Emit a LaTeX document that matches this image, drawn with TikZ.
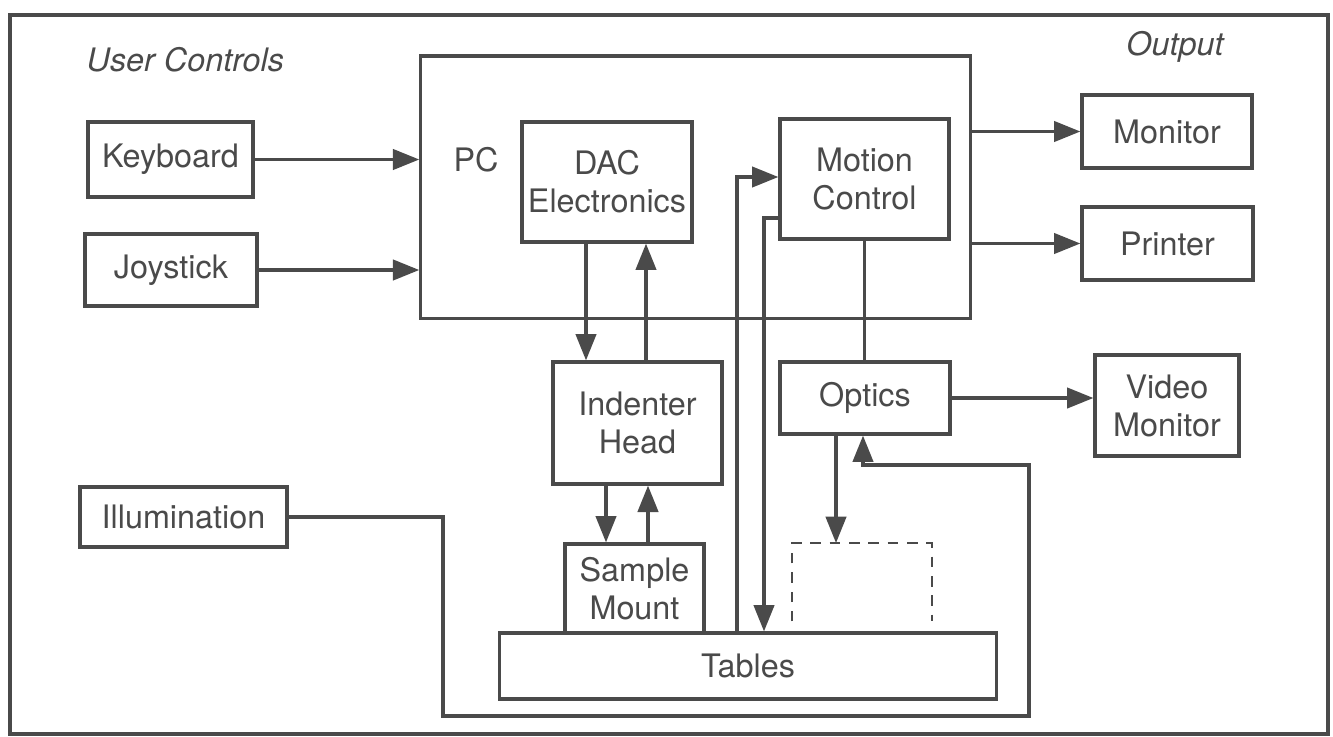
\documentclass[tikz,border=0pt]{standalone}
\usepackage{fontspec}
\setmainfont{TeX Gyre Heros}
\usetikzlibrary{arrows.meta,calc}
\definecolor{ink}{HTML}{4A4A4A}

\begin{document}
\begin{tikzpicture}[x=0.01cm, y=-0.01cm,
		box/.style={draw=ink, line width=0.9pt, text=ink, inner sep=0pt, align=center,
			font=\fontsize{9.2}{10.8}\selectfont},
		tag/.style={text=ink, inner sep=0pt, font=\fontsize{9.2}{10.8}\selectfont},
		wire/.style={draw=ink, line width=0.9pt},
		arr/.style={wire, -{Triangle[length=7.5pt, width=5.8pt]}}]

		\useasboundingbox (0,0) rectangle (1333,736);

		% --- Frame ---
		\draw[wire] (10,15) rectangle (1328,734);
		\node[tag, font=\fontsize{9.2}{10.8}\selectfont\itshape, anchor=west] (userlbl) at (86,60) {User Controls};
		\node[tag, font=\fontsize{9.2}{10.8}\selectfont\itshape] (outlbl) at (1175,47) {Output};

		% --- Blocks ---
		% User controls
		\node[box, minimum width=1.65cm, minimum height=0.75cm] (kbd) at (170.5,159.5) {Keyboard};
		\node[box, minimum width=1.72cm, minimum height=0.72cm] (joy) at (171,270) {Joystick};
		\node[box, minimum width=2.07cm, minimum height=0.60cm] (ill) at (183.5,517) {Illumination};

		% PC and its boards
		\node[box, minimum width=5.49cm, minimum height=2.62cm] (pc) at (695.5,187) {};
		\node[tag] (pclbl) at (476,160) {PC};
		\node[box, minimum width=1.70cm, minimum height=1.20cm] (dac) at (607,182) {DAC\\Electronics};
		\node[box, minimum width=1.69cm, minimum height=1.20cm] (mc) at (864.5,179) {Motion\\Control};

		% Mechanics
		\node[box, minimum width=1.69cm, minimum height=1.22cm] (ind) at (637.5,423) {Indenter\\Head};
		\node[box, minimum width=1.70cm, minimum height=0.72cm] (opt) at (865,398) {Optics};
		\node[box, minimum width=1.39cm, minimum height=0.89cm] (smp) at (634.5,588.5) {Sample\\Mount};
		\node[box, minimum width=4.96cm, minimum height=0.66cm] (tab) at (748,666) {Tables};

		% Output
		\node[box, minimum width=1.70cm, minimum height=0.73cm] (mon) at (1167,131.5) {Monitor};
		\node[box, minimum width=1.71cm, minimum height=0.73cm] (prn) at (1167.5,243.5) {Printer};
		\node[box, minimum width=1.44cm, minimum height=1.01cm] (vid) at (1167,405.5) {Video\\Monitor};

		% dashed stage on the tables
		\coordinate (stg) at (836,543);
		\draw[wire, line width=0.8pt, dash pattern=on 3pt off 2.5pt] ($(tab.north)+(44,-10)$) |- (stg) -| ($(tab.north)+(184,-10)$);

		% --- Connectors ---
		% inputs and outputs
		\draw[arr] (kbd.east) -- (kbd.east -| pc.west);
		\draw[arr] (joy.east) -- (joy.east -| pc.west);
		\draw[arr] (mon.west -| pc.east) -- (mon.west);
		\draw[arr] (prn.west -| pc.east) -- (prn.west);
		\draw[arr] (opt.east) -- (opt.east -| vid.west);

		% DAC <-> indenter <-> sample
		\draw[arr] ($(dac.south)+(-21,0)$) -- ($(ind.north)+(-51.5,0)$);
		\draw[arr] ($(ind.north)+(8.5,0)$) -- ($(dac.south)+(39,0)$);
		\draw[arr] ($(ind.south)+(-31.5,0)$) -- ($(smp.north)+(-28.5,0)$);
		\draw[arr] ($(smp.north)+(13.5,0)$) -- ($(ind.south)+(10.5,0)$);

		% motion control <-> tables
		\draw[arr] ($(tab.north)+(-11,0)$) |- ($(mc.west)+(0,-2)$);
		\draw[arr] ($(mc.west)+(0,39)$) -| ($(tab.north)+(16,0)$);
		\draw[wire] (mc.south) -- (mc.south |- opt.north);

		% optics
		\draw[arr] ($(opt.south)+(-29,0)$) -- (stg);
		\draw[arr] (ill.east) -| (443,716) -| (1029,465) -| ($(opt.south)+(-2,0)$);

	\end{tikzpicture}
\end{document}
